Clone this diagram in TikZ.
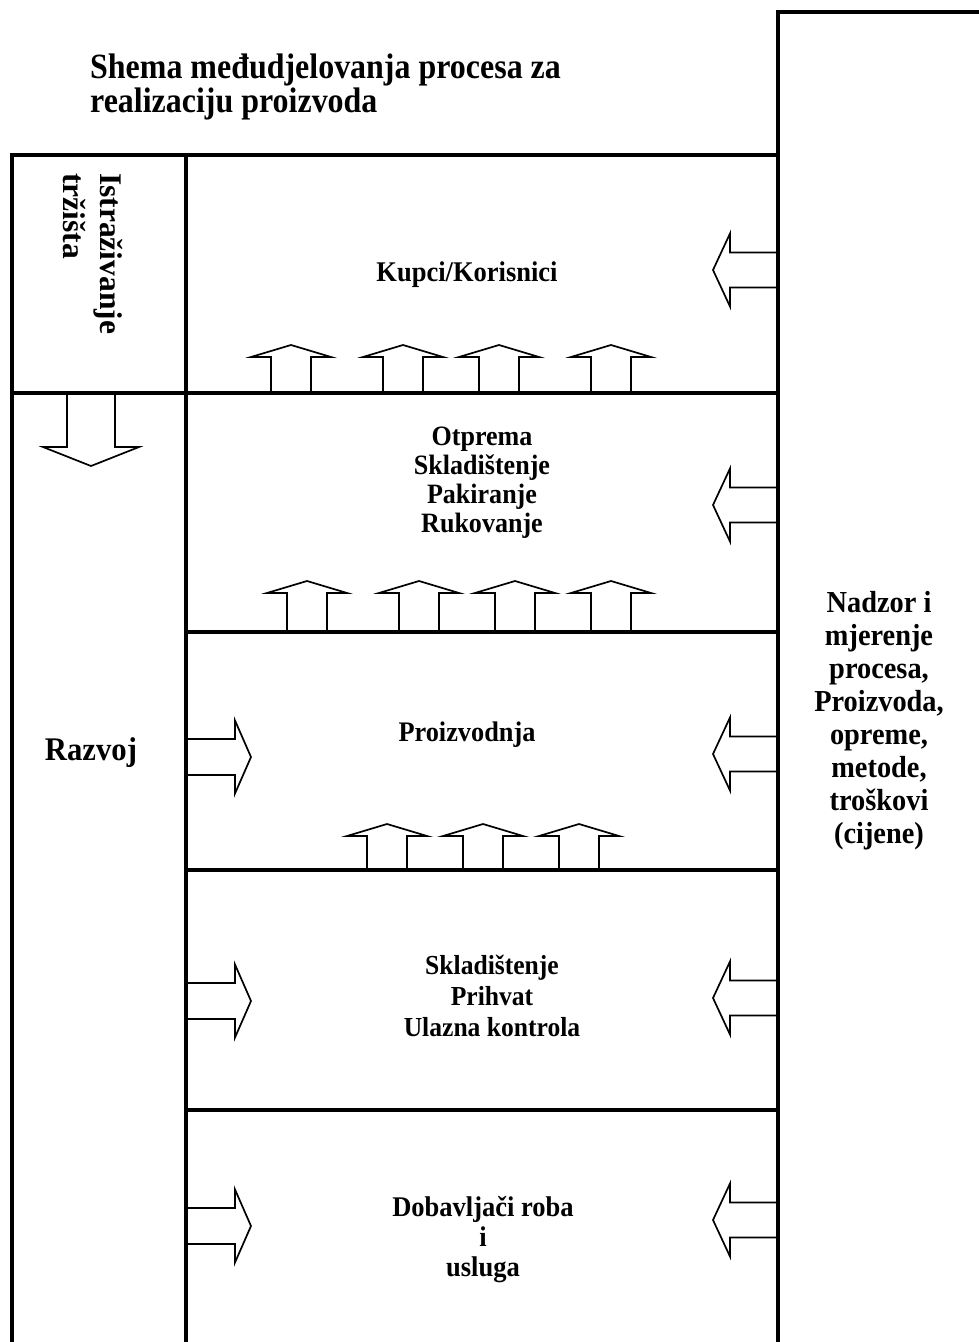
\documentclass[tikz,border=0pt]{standalone}
\usepackage{fontspec}
\setmainfont{Liberation Serif}
\newfontfamily\tallfont[FakeStretch=0.93]{Liberation Serif}
\newfontfamily\titlefont[FakeStretch=0.9]{Liberation Serif}
% up block arrow: centre x, base y, shaft length
\newcommand\UpArr[3]{\draw[blockarrow] (#1-20,#2) -- (#1-20,#2-#3) -- (#1-40,#2-#3) -- (#1,#2-#3-12) -- (#1+40,#2-#3) -- (#1+20,#2-#3) -- (#1+20,#2);}
% left-pointing arrow from right frame, centre y
\newcommand\LeftArr[1]{\draw[blockarrow] (778,#1-17.5) -- (730,#1-17.5) -- (730,#1-36.5) -- (713,#1) -- (730,#1+36.5) -- (730,#1+17.5) -- (778,#1+17.5);}
% right-pointing arrow from left column, centre y
\newcommand\RightArr[1]{\draw[blockarrow] (186,#1-18) -- (235,#1-18) -- (235,#1-36.5) -- (251,#1) -- (235,#1+36.5) -- (235,#1+18) -- (186,#1+18);}
\begin{document}
\begin{tikzpicture}[x=1pt,y=-1pt,
  frame/.style={line width=3.2pt},
  blockarrow/.style={draw, line width=1.7pt, fill=white, line join=miter},
  lbl/.style={font=\tallfont\bfseries\fontsize{28.5}{29}\selectfont, align=center, inner sep=0pt},
  ttl/.style={font=\titlefont\bfseries\fontsize{35.5}{36}\selectfont, inner sep=0pt, anchor=base west}]
\useasboundingbox (0,0) rectangle (978,1342);

% arrows
\UpArr{291}{393}{36}\UpArr{403}{393}{36}\UpArr{499}{393}{36}\UpArr{611}{393}{36}
\UpArr{307}{632}{39}\UpArr{419}{632}{39}\UpArr{515}{632}{39}\UpArr{611}{632}{39}
\UpArr{387}{870}{34}\UpArr{483}{870}{34}\UpArr{579}{870}{34}
\LeftArr{270}\LeftArr{505}\LeftArr{754}\LeftArr{998}\LeftArr{1220}
\RightArr{757}\RightArr{1001}\RightArr{1226}
\draw[blockarrow] (67,393) -- (67,447) -- (43,447) -- (91,466) -- (139,447) -- (115,447) -- (115,393);

% frame
\draw[frame] (12,1350) -- (12,155) -- (778,155);
\draw[frame] (186,155) -- (186,1350);
\draw[frame] (12,393) -- (778,393);
\draw[frame] (186,632) -- (778,632);
\draw[frame] (186,870) -- (778,870);
\draw[frame] (186,1110) -- (778,1110);
\draw[frame] (778,1350) -- (778,12) -- (985,12);

% texts
\node[ttl] (t1) at (90,78) {Shema međudjelovanja procesa za};
\node[ttl] (t2) at (90,112) {realizaciju proizvoda};
\node[font=\bfseries\fontsize{31.5}{37}\selectfont, align=left, inner sep=0pt, rotate=-90, anchor=north west] (ist) at (123,173) {Istraživanje\\tržišta};
\node[lbl] (kup) at (467,275) {Kupci/Korisnici};
\node[lbl, font=\tallfont\bfseries\fontsize{28}{29}\selectfont] (otp) at (482,483) {Otprema\\Skladištenje\\Pakiranje\\Rukovanje};
\node[lbl, font=\tallfont\bfseries\fontsize{28.3}{29}\selectfont] (pro) at (467,735) {Proizvodnja};
\node[lbl, font=\tallfont\bfseries\fontsize{27.5}{31}\selectfont] (skl) at (492,996) {Skladištenje\\Prihvat\\Ulazna kontrola};
\node[lbl, font=\tallfont\bfseries\fontsize{28.5}{30}\selectfont] (dob) at (483,1240) {Dobavljači roba\\i\\usluga};
\node[lbl, font=\tallfont\bfseries\fontsize{33}{36}\selectfont] (raz) at (91,753) {Razvoj};
\node[lbl, font=\tallfont\bfseries\fontsize{30.5}{33}\selectfont] (nad) at (879,721) {Nadzor i\\mjerenje\\procesa,\\Proizvoda,\\opreme,\\metode,\\troškovi\\(cijene)};
\end{tikzpicture}
\end{document}
